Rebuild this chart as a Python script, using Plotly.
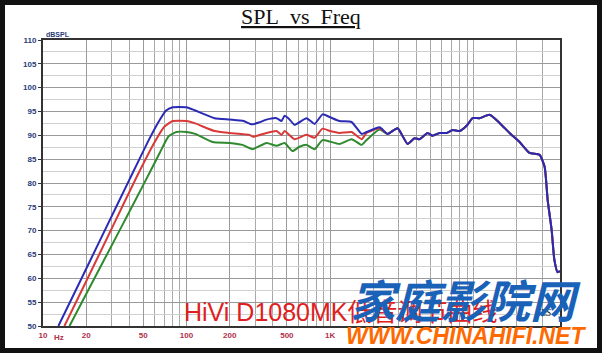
import plotly.graph_objects as go
import numpy as np

# ---- data ----
tail_f = [2518, 2954, 3467, 3880, 4205, 4783, 5180, 5797, 6490, 7142, 7987, 8937,
          9840, 11012, 12920, 15170, 17810, 20920, 24560, 28840, 31260, 32820,
          34990, 36500, 38460, 40000]
tail_db = [90.3, 91.5, 88.2, 89.4, 89.2, 90.5, 89.9, 90.5, 90.5, 91.1, 90.9, 92.0,
           93.6, 93.6, 94.3, 92.6, 90.5, 88.6, 86.3, 85.9, 83.4, 76.4,
           70.1, 64.0, 61.3, 61.5]

blue_f = [12.8, 20, 27.7, 40, 55, 65, 72, 80, 100, 115, 157, 200, 250, 285, 320, 360,
          424, 459, 482, 520, 566, 685, 780, 887, 1000, 1164, 1412, 1660, 1796, 2213]
blue_db = [50, 62, 70.8, 80.7, 89.2, 93.2, 95.2, 95.9, 95.9, 95.2, 93.6, 93.3, 93.0, 92.3, 92.7, 93.3,
           93.6, 93.0, 94.1, 93.4, 92.2, 93.6, 92.4, 94.4, 93.8, 93.0, 92.8, 90.3, 90.7, 91.7]

red_f = [14.1, 20, 30.5, 45, 60, 70, 80, 100, 115, 157, 200, 275, 290, 360,
         424, 459, 482, 566, 685, 780, 887, 1000, 1164, 1412, 1660, 1796, 2213]
red_db = [50, 59.4, 70.8, 81.3, 88.6, 91.8, 93.0, 93.0, 92.5, 90.9, 90.5, 90.1, 89.7, 90.5,
          90.9, 90.1, 90.9, 89.2, 90.1, 89.5, 91.4, 90.9, 90.5, 90.7, 89.2, 90.5, 91.5]

green_f = [15.3, 20, 35.2, 50, 65, 75, 85, 100, 115, 152, 200, 245, 289, 361,
           424, 482, 548, 612, 685, 780, 887, 1164, 1412, 1660, 1796, 2213]
green_db = [50, 56.7, 70.8, 79.6, 86.3, 89.8, 90.7, 90.7, 90.3, 88.6, 88.4, 88.0, 87.1, 88.4,
            87.8, 88.4, 86.7, 87.6, 88.0, 87.1, 89.0, 88.2, 89.2, 88.0, 89.0, 91.2]

# labels beyond 1K are hidden under the watermark in the reference
x_tickvals = [10, 20, 50, 100, 200, 500, 1000]
x_ticktext = ["10", "20", "50", "100", "200", "500", "1K"]
x_minor = [d * m for m in (10, 100, 1000, 10000) for d in range(1, 10)
           if d * m not in x_tickvals and d * m <= 40000]
y_tickvals = list(range(50, 111, 5))

# ---- figure ----
fig = go.Figure()
series = [("green", green_f, green_db, "#2f8a2f"),
          ("red", red_f, red_db, "#d83a3a"),
          ("blue", blue_f, blue_db, "#2a2ab5")]
for name, f, db, col in series:
    fig.add_trace(go.Scatter(x=f + tail_f, y=db + tail_db, mode="lines", name=name,
                             line=dict(color=col, width=2, shape="spline", smoothing=0.5),
                             showlegend=False, hoverinfo="skip"))

W, H = 603, 353
L, R, T, B = 43, 560, 40, 326


def px(x):
    return (x - L) / (R - L)


def py(y):
    return (B - y) / (B - T)


fig.update_layout(
    width=W, height=H,
    margin=dict(l=L, r=W - R, t=T, b=H - B),
    paper_bgcolor="white", plot_bgcolor="white",
    font=dict(family="Liberation Sans"),
    xaxis=dict(type="log", range=[1, np.log10(40000)],
               tickvals=x_tickvals, ticktext=x_ticktext,
               tickfont=dict(size=8, color="#b0304a", weight="bold"),
               showgrid=True, gridcolor="#9a9a9a", gridwidth=1,
               minor=dict(tickvals=x_minor, showgrid=True, gridcolor="#a8a8a8", gridwidth=1),
               showline=True, linecolor="#333333", linewidth=2, mirror=True,
               ticks="", zeroline=False),
    yaxis=dict(range=[50, 110], tickvals=y_tickvals,
               tickfont=dict(size=8, color="#2a3c78", weight="bold"),
               showgrid=True, gridcolor="#9a9a9a", gridwidth=1,
               minor=dict(dtick=2.5, showgrid=True, gridcolor="#d0d0d0", gridwidth=1),
               showline=True, linecolor="#333333", linewidth=2, mirror=True,
               ticks="outside", ticklen=3, tickcolor="#333333", zeroline=False),
)

fig.add_shape(type="rect", xref="paper", yref="paper",
              x0=px(2.5), x1=px(599.5), y0=py(2.5), y1=py(350.5),
              line=dict(color="#111111", width=5), layer="above")

ann = [
    dict(text="<u>SPL&nbsp; vs&nbsp; Freq</u>", x=px(301), y=py(31), xanchor="center", yanchor="bottom",
         font=dict(family="Liberation Serif", size=22, color="#111111")),
    dict(text="dBSPL", x=px(44), y=py(40), xanchor="left", yanchor="bottom",
         font=dict(size=7, color="#2a3c78", weight="bold")),
    dict(text="Hz", x=px(52), y=py(331), xanchor="left", yanchor="top",
         font=dict(size=8, color="#b0304a", weight="bold")),
    dict(text="HiVi D1080MK低音调节曲线", x=px(182), y=py(328), xanchor="left", yanchor="bottom",
         font=dict(family="Liberation Sans, Noto Sans CJK SC", size=25, color="#e02020")),
    dict(text="<i>LLS</i>", x=px(532), y=py(320), xanchor="left", yanchor="bottom",
         font=dict(family="Liberation Serif", size=10, color="#222222")),
    dict(text="<b><i>家庭影院网</i></b>", x=px(348), y=py(333), xanchor="left", yanchor="bottom",
         font=dict(family="Noto Sans CJK SC", size=45, color="#1a62b8")),
    dict(text="<b><i>WWW.CHINAHIFI.NET</i></b>", x=px(344), y=py(321), xanchor="left", yanchor="top",
         font=dict(family="Liberation Sans", size=23, color="#ff6a00")),
]
for a in ann:
    fig.add_annotation(xref="paper", yref="paper", showarrow=False, **a)

fig.write_html("out.html")
